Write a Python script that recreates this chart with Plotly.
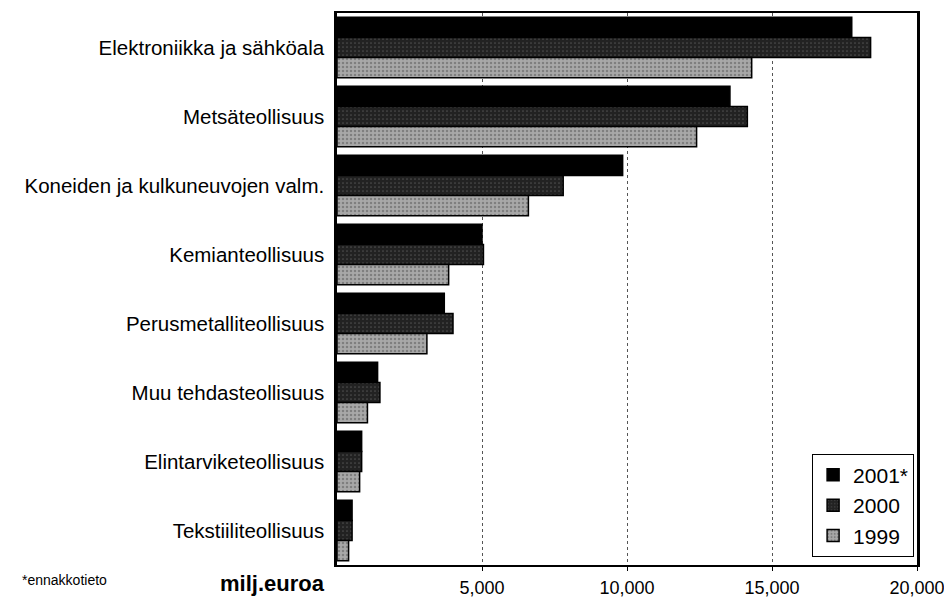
import plotly.graph_objects as go

categories = [
    "Elektroniikka ja sähköala",
    "Metsäteollisuus",
    "Koneiden ja kulkuneuvojen valm.",
    "Kemianteollisuus",
    "Perusmetalliteollisuus",
    "Muu tehdasteollisuus",
    "Elintarviketeollisuus",
    "Tekstiiliteollisuus",
]
values_2001 = [17750, 13550, 9850, 5000, 3700, 1400, 850, 520]
values_2000 = [18400, 14150, 7800, 5050, 4000, 1480, 850, 520]
values_1999 = [14300, 12400, 6600, 3850, 3100, 1050, 780, 400]
series_names = ["2001*", "2000", "1999"]
tick_vals = [5000, 10000, 15000, 20000]
tick_text = ["5,000", "10,000", "15,000", "20,000"]

FONT = "Liberation Sans, Arial, sans-serif"

fig = go.Figure()
styles = [
    dict(color="#000000"),
    dict(color="#222222", pattern=dict(shape=".", fgcolor="#777777", size=4, solidity=0.15)),
    dict(color="#a8a8a8", pattern=dict(shape=".", fgcolor="#555555", size=4, solidity=0.3)),
]
for name, vals, st in zip(series_names, [values_2001, values_2000, values_1999], styles):
    fig.add_trace(go.Bar(
        y=categories, x=vals, name=name, orientation="h",
        marker=dict(color=st["color"], line=dict(color="#000000", width=1.5),
                    pattern=st.get("pattern")),
    ))

fig.update_layout(
    width=944, height=589,
    margin=dict(l=329, r=35, t=5, b=32),
    barmode="group", bargap=0.12, bargroupgap=0,
    paper_bgcolor="white", plot_bgcolor="white",
    font=dict(family=FONT, size=19, color="#000000"),
    showlegend=True,
    legend=dict(
        x=0.995, y=0.015, xanchor="right", yanchor="bottom",
        bordercolor="#000000", borderwidth=1, bgcolor="white",
        font=dict(size=21), traceorder="normal",
    ),
    xaxis=dict(
        range=[0, 20000], tickvals=tick_vals, ticktext=tick_text,
        showgrid=True, gridcolor="#555555", griddash="dot", gridwidth=1,
        showline=True, linecolor="#000000", linewidth=2, mirror=True,
        ticks="outside", ticklen=4, tickcolor="#000000",
        tickfont=dict(size=18), zeroline=False, ticklabelstandoff=1,
        automargin=False,
    ),
    yaxis=dict(
        autorange="reversed", showline=True, linecolor="#000000", linewidth=3,
        mirror=True, ticks="", tickfont=dict(size=20.5), ticksuffix=" ",
        automargin=False,
    ),
)
fig.add_annotation(text="<b>milj.euroa</b>", xref="paper", yref="paper",
                   x=-0.017, y=0, xanchor="right", yanchor="middle", yshift=-18,
                   showarrow=False, font=dict(size=22, family=FONT))
fig.add_annotation(text="*ennakkotieto", xref="paper", yref="paper",
                   x=-0.547, y=0, xanchor="left", yanchor="middle", yshift=-15,
                   showarrow=False, font=dict(size=14, family=FONT))

fig.write_html("out.html")
